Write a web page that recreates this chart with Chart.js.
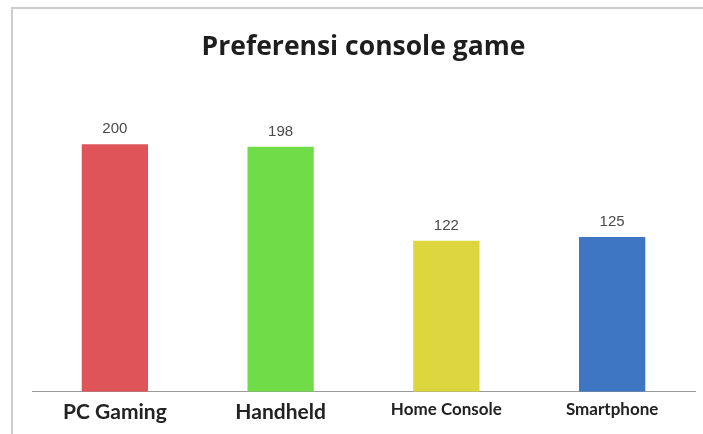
<!DOCTYPE html>
<html>
<head>
<meta charset="utf-8">
<script src="https://cdn.jsdelivr.net/npm/chart.js@4"></script>
<style>
  html, body { margin: 0; padding: 0; background: #ffffff; }
  #wrap { position: relative; width: 703px; height: 434px; overflow: hidden; }
  #frame {
    position: absolute; left: 11px; top: 7px; width: 720px; height: 460px;
    border-top: 2px solid #cdcdcd; border-left: 2px solid #cdcdcd;
  }
  canvas { position: absolute; left: 0; top: 0; }
</style>
</head>
<body>
<div id="wrap">
  <div id="frame"></div>
  <canvas id="chart" width="703" height="434"></canvas>
</div>
<script>
// Survey result: preferred gaming platform
const categories = ['PC Gaming', 'Handheld', 'Home Console', 'Smartphone'];
const votes = [200, 198, 122, 125];
const barColors = ['#de5458', '#70dc48', '#ddd63f', '#3e76c4'];
const labelSizes = [21, 21, 17, 17];

// Writes each bar's value just above it
const valueLabels = {
  id: 'valueLabels',
  afterDatasetsDraw(chart) {
    const { ctx } = chart;
    const meta = chart.getDatasetMeta(0);
    ctx.save();
    ctx.font = '15px "Liberation Sans", Arial, sans-serif';
    ctx.fillStyle = '#4a4a4a';
    ctx.textAlign = 'center';
    ctx.textBaseline = 'alphabetic';
    meta.data.forEach((bar, i) => {
      ctx.fillText(String(chart.data.datasets[0].data[i]), bar.x, bar.y - 11);
    });
    ctx.restore();
  }
};

new Chart(document.getElementById('chart'), {
  type: 'bar',
  data: {
    labels: categories,
    datasets: [{
      data: votes,
      backgroundColor: barColors,
      borderWidth: 0,
      barPercentage: 0.8,
      categoryPercentage: 0.5
    }]
  },
  options: {
    responsive: false,
    animation: false,
    layout: { padding: { left: 32, right: 8, top: 32, bottom: 1 } },
    plugins: {
      legend: { display: false },
      tooltip: { enabled: false },
      title: {
        display: true,
        text: 'Preferensi console game',
        color: '#1e1e1e',
        font: { family: '"Open Sans", sans-serif', size: 26.5, weight: 'bold' },
        padding: { top: 0, bottom: 18.5 }
      }
    },
    scales: {
      x: {
        grid: { display: false, drawTicks: false },
        border: { display: true, color: '#9a9a9a', width: 1 },
        ticks: {
          color: '#222222',
          padding: 8,
          font: (ctx) => ({
            family: 'Lato, "DejaVu Sans", sans-serif',
            weight: 'bold',
            size: labelSizes[ctx.index] || 17
          })
        }
      },
      y: {
        display: false,
        min: 0,
        max: 250
      }
    }
  },
  plugins: [valueLabels]
});
</script>
</body>
</html>
